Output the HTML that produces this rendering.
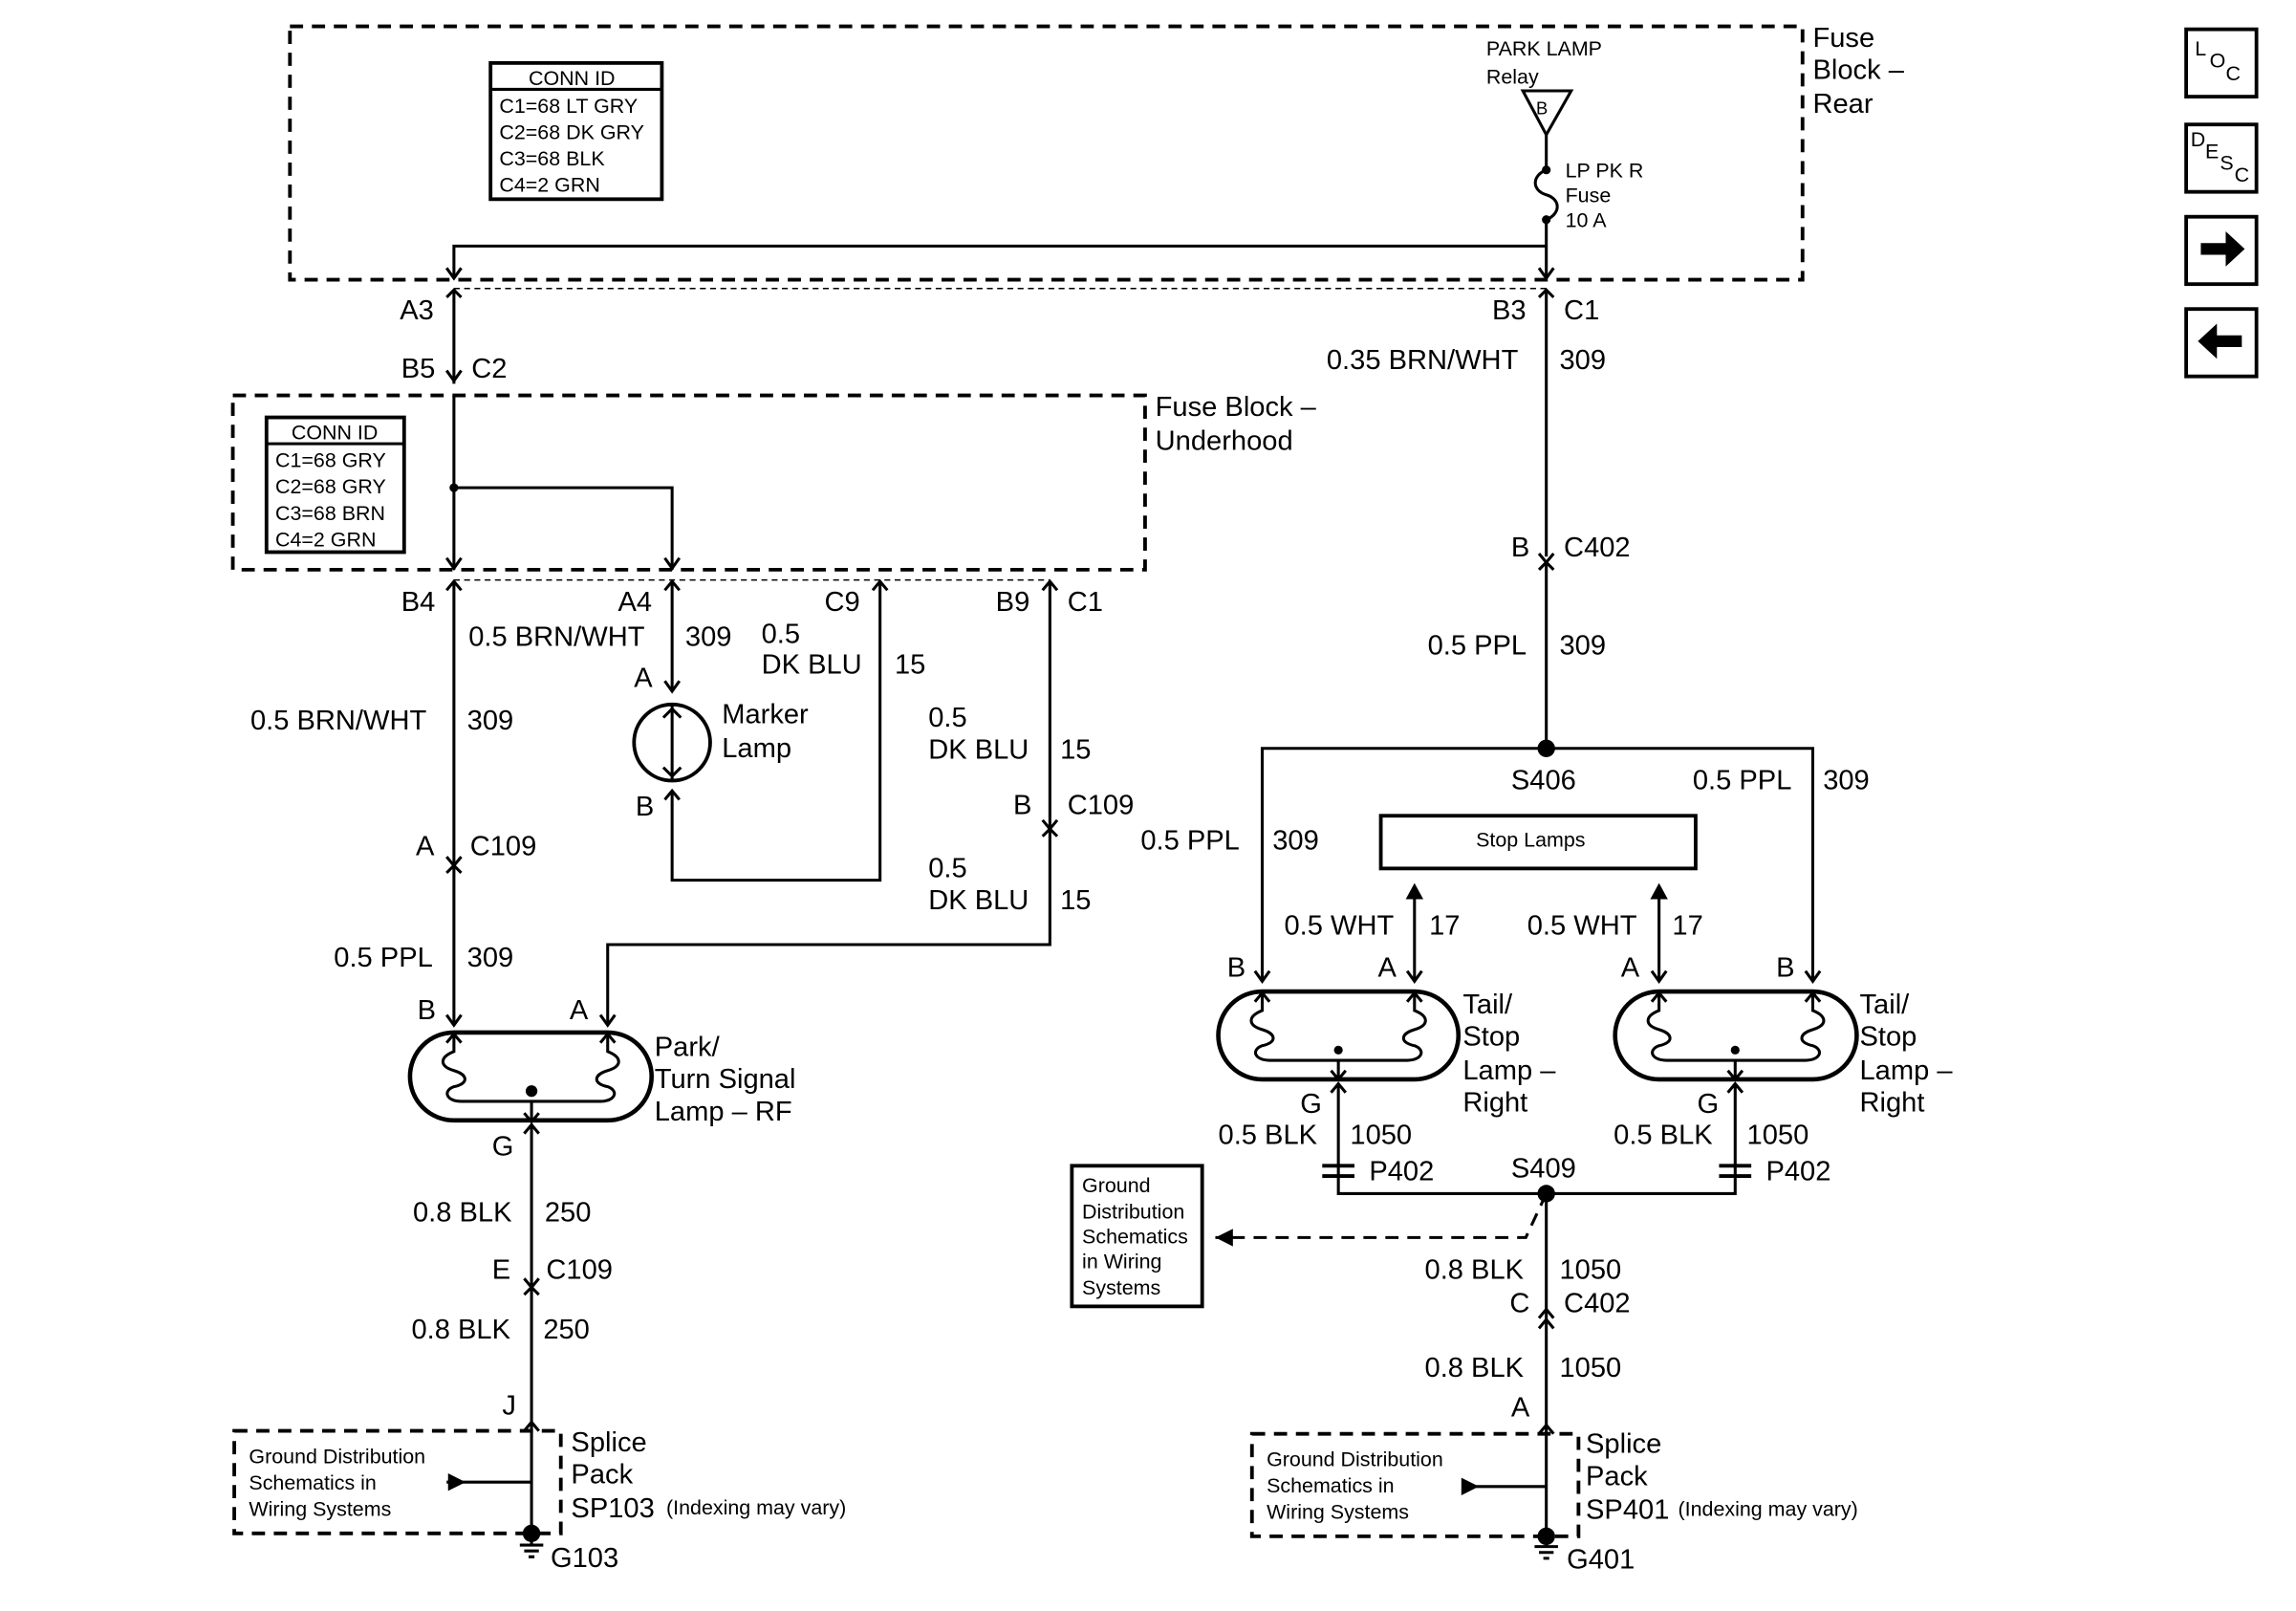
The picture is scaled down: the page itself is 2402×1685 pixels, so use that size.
<!DOCTYPE html>
<html><head><meta charset="utf-8"><style>
html,body{margin:0;padding:0;background:#fff;}
svg{display:block;}
text{font-family:"Liberation Sans",Arial,sans-serif;fill:#000;}
.t{font-size:19px;}
.s{font-size:14px;}
.xs{font-size:13px;}
</style></head><body>
<svg width="2402" height="1685" viewBox="0 0 1568 1100" preserveAspectRatio="none" xmlns="http://www.w3.org/2000/svg">
<g fill="none" stroke="#000" stroke-width="2">
<rect x="198" y="18" width="1033" height="173" stroke-dasharray="9,6" stroke-width="2.5"/>
<rect x="335" y="43" width="117" height="93" stroke-width="2.5"/>
<line x1="335" y1="61" x2="452" y2="61"/>
<path d="M1040,62 L1073,62 L1056,92 Z"/>
<path d="M1056,92 L1056,116 M1056,150 L1056,190"/>
<path d="M1056,116 C1046,120 1046,130 1056,133 C1066,136 1066,146 1056,150" />
<path d="M310,190 L310,168 L1056,168"/>
<path d="M305,183 L310,190 L315,183 M1051,183 L1056,190 L1061,183"/>
<line x1="310" y1="197" x2="1056" y2="197" stroke-width="1" stroke-dasharray="4,3"/>
<path d="M305,203 L310,198 L315,203 M310,198 L310,262"/>
<path d="M305,253 L310,260 L315,253"/>
<path d="M1051,203 L1056,198 L1061,203 M1056,198 L1056,380"/>
<rect x="159" y="270" width="623" height="119" stroke-dasharray="9,6" stroke-width="2.5"/>
<rect x="182" y="285" width="94" height="92" stroke-width="2.5"/>
<line x1="182" y1="303" x2="276" y2="303"/>
<path d="M310,270 L310,389 M310,333 L459,333 L459,389"/>
<path d="M305,381 L310,388 L315,381 M454,381 L459,388 L464,381"/>
<line x1="310" y1="396" x2="717" y2="396" stroke-width="1" stroke-dasharray="4,3"/>
<path d="M305,403 L310,397 L315,403 M310,397 L310,700"/>
<path d="M305,585 L310,591 L315,585 M305,596 L310,591 L315,596"/>
<path d="M305,693 L310,700 L315,693"/>
<path d="M454,403 L459,397 L464,403 M459,397 L459,472"/>
<path d="M454,465 L459,472 L464,465"/>
<circle cx="459" cy="507" r="26" stroke-width="2.5"/>
<path d="M459,482 L459,532 M453,490 L459,484 L465,490 M453,524 L459,530 L465,524"/>
<path d="M454,546 L459,540 L464,546 M459,540 L459,601 L601,601 L601,397 M596,403 L601,397 L606,403"/>
<path d="M712,403 L717,397 L722,403 M717,397 L717,645 L415,645 L415,700"/>
<path d="M712,560 L717,566 L722,560 M712,571 L717,566 L722,571"/>
<path d="M410,693 L415,700 L420,693"/>
<path d="M310,705 L415,705 A30,30 0 0 1 415,765 L310,765 A30,30 0 0 1 310,705 Z" stroke-width="3"/>
<path d="M310,705 L310,718 C300,722 300,728 310,731 C320,734 320,740 310,742 C302,745 305,752 315,752 L410,752 C420,752 423,745 415,742 C405,740 405,734 415,731 C425,728 425,722 415,718 L415,705"/>
<path d="M305,712 L310,706 L315,712 M410,712 L415,706 L420,712"/>
<path d="M363,752 L363,766 M358,760 L363,766 L368,760"/>
<path d="M358,774 L363,768 L368,774 M363,768 L363,1047"/>
<path d="M358,873 L363,879 L368,873 M358,884 L363,879 L368,884"/>
<path d="M358,977 L363,971 L368,977"/>
<rect x="160" y="977" width="223" height="70" stroke-dasharray="9,6" stroke-width="2.5"/>
<line x1="305" y1="1012" x2="363" y2="1012"/>
<path d="M363,1047 L363,1055 M355,1055 L371,1055 M358,1059 L368,1059 M361,1063 L365,1063"/>
<path d="M1051,378 L1056,384 L1061,378 M1051,389 L1056,384 L1061,389 M1056,384 L1056,511"/>
<path d="M862,670 L862,511 L1238,511 L1238,670"/>
<path d="M857,663 L862,670 L867,663 M1233,663 L1238,670 L1243,663"/>
<rect x="943" y="557" width="215" height="36" stroke-width="2.5"/>
<path d="M966,670 L966,610 M1133,670 L1133,610"/>
<path d="M961,663 L966,670 L971,663 M1128,663 L1133,670 L1138,663"/>
<path d="M862,677 L966,677 A30,30 0 0 1 966,737 L862,737 A30,30 0 0 1 862,677 Z" stroke-width="3"/>
<path d="M862,677 L862,690 C852,694 852,700 862,703 C872,706 872,712 862,714 C854,717 857,724 867,724 L961,724 C971,724 974,717 966,714 C956,712 956,706 966,703 C976,700 976,694 966,690 L966,677"/>
<path d="M857,684 L862,678 L867,684 M961,684 L966,678 L971,684"/>
<path d="M914,724 L914,737 M909,731 L914,737 L919,731"/>
<path d="M1133,677 L1238,677 A30,30 0 0 1 1238,737 L1133,737 A30,30 0 0 1 1133,677 Z" stroke-width="3"/>
<path d="M1133,677 L1133,690 C1123,694 1123,700 1133,703 C1143,706 1143,712 1133,714 C1125,717 1128,724 1138,724 L1233,724 C1243,724 1246,717 1238,714 C1228,712 1228,706 1238,703 C1248,700 1248,694 1238,690 L1238,677"/>
<path d="M1128,684 L1133,678 L1138,684 M1233,684 L1238,678 L1243,684"/>
<path d="M1185,724 L1185,737 M1180,731 L1185,737 L1190,731"/>
<path d="M909,746 L914,740 L919,746 M914,740 L914,815 L1185,815 L1185,740 M1180,746 L1185,740 L1190,746"/>
<path d="M903,796 L925,796 M903,803 L925,803 M1174,796 L1196,796 M1174,803 L1196,803" stroke-width="2.5"/>
<path d="M1056,815 L1056,1049"/>
<path d="M1056,815 L1042,845 L830,845" stroke-dasharray="9,6"/>
<rect x="732" y="796" width="89" height="96" stroke-width="2.5"/>
<path d="M1051,900 L1056,894 L1061,900 M1051,907 L1056,901 L1061,907"/>
<path d="M1051,979 L1056,973 L1061,979"/>
<rect x="855" y="979" width="223" height="70" stroke-dasharray="9,6" stroke-width="2.5"/>
<line x1="1000" y1="1015" x2="1056" y2="1015"/>
<path d="M1056,1049 L1056,1056 M1048,1056 L1064,1056 M1051,1060 L1061,1060 M1054,1064 L1058,1064"/>
<rect x="1493" y="20" width="48" height="46" stroke-width="2.5"/>
<rect x="1493" y="85" width="48" height="46" stroke-width="2.5"/>
<rect x="1493" y="148" width="48" height="46" stroke-width="2.5"/>
<rect x="1493" y="211" width="48" height="46" stroke-width="2.5"/>
</g>
<g fill="#000">
<circle cx="1056" cy="116" r="3"/><circle cx="1056" cy="150" r="3"/>
<circle cx="310" cy="333" r="3"/>
<circle cx="1056" cy="511" r="6"/>
<circle cx="1056" cy="815" r="6"/>
<circle cx="363" cy="745" r="4"/><circle cx="914" cy="717" r="3"/><circle cx="1185" cy="717" r="3"/>
<circle cx="363" cy="1047" r="6"/><circle cx="1056" cy="1049" r="6"/>
<path d="M966,603 L960,614 L972,614 Z"/><path d="M1133,603 L1127,614 L1139,614 Z"/>
<path d="M318,1012 L306,1006 L306,1018 Z"/>
<path d="M1010,1015 L998,1009 L998,1021 Z"/>
<path d="M830,845 L842,839 L842,851 Z"/>
<path d="M1503,166 L1520,166 L1520,158 L1533,170 L1520,182 L1520,174 L1503,174 Z"/>
<path d="M1531,229 L1514,229 L1514,221 L1501,233 L1514,245 L1514,237 L1531,237 Z"/>
</g>
<g class="s">
<text x="361" y="58">CONN ID</text>
<text x="341" y="77">C1=68 LT GRY</text>
<text x="341" y="95">C2=68 DK GRY</text>
<text x="341" y="113">C3=68 BLK</text>
<text x="341" y="131">C4=2 GRN</text>
<text x="199" y="300">CONN ID</text>
<text x="188" y="319">C1=68 GRY</text>
<text x="188" y="337">C2=68 GRY</text>
<text x="188" y="355">C3=68 BRN</text>
<text x="188" y="373">C4=2 GRN</text>
<text x="1015" y="38">PARK LAMP</text>
<text x="1015" y="57">Relay</text>
<text x="1069" y="121">LP PK R</text>
<text x="1069" y="138">Fuse</text>
<text x="1069" y="155">10 A</text>
<text x="1049" y="78" font-size="12">B</text>
<text x="170" y="999">Ground Distribution</text>
<text x="170" y="1017">Schematics in</text>
<text x="170" y="1035">Wiring Systems</text>
<text x="865" y="1001">Ground Distribution</text>
<text x="865" y="1019">Schematics in</text>
<text x="865" y="1037">Wiring Systems</text>
<text x="739" y="814">Ground</text>
<text x="739" y="832">Distribution</text>
<text x="739" y="849">Schematics</text>
<text x="739" y="866">in Wiring</text>
<text x="739" y="884">Systems</text>
<text x="1008" y="578">Stop Lamps</text>
<text x="455" y="1034">(Indexing may vary)</text>
<text x="1146" y="1035">(Indexing may vary)</text>
</g>
<g class="t">
<text x="1238" y="32">Fuse</text><text x="1238" y="54">Block –</text><text x="1238" y="77">Rear</text>
<text x="273" y="218">A3</text><text x="1019" y="218">B3</text><text x="1068" y="218">C1</text>
<text x="274" y="258">B5</text><text x="322" y="258">C2</text>
<text x="789" y="284">Fuse Block –</text><text x="789" y="307">Underhood</text>
<text x="906" y="252">0.35 BRN/WHT</text><text x="1065" y="252">309</text>
<text x="1032" y="380">B</text><text x="1068" y="380">C402</text>
<text x="975" y="447">0.5 PPL</text><text x="1065" y="447">309</text>
<text x="274" y="417">B4</text><text x="422" y="417">A4</text><text x="563" y="417">C9</text><text x="680" y="417">B9</text><text x="729" y="417">C1</text>
<text x="320" y="441">0.5 BRN/WHT</text><text x="468" y="441">309</text>
<text x="520" y="439">0.5</text><text x="520" y="460">DK BLU</text><text x="611" y="460">15</text>
<text x="433" y="469">A</text><text x="434" y="557">B</text>
<text x="493" y="494">Marker</text><text x="493" y="517">Lamp</text>
<text x="171" y="498">0.5 BRN/WHT</text><text x="319" y="498">309</text>
<text x="634" y="496">0.5</text><text x="634" y="518">DK BLU</text><text x="724" y="518">15</text>
<text x="692" y="556">B</text><text x="729" y="556">C109</text>
<text x="284" y="584">A</text><text x="321" y="584">C109</text>
<text x="634" y="599">0.5</text><text x="634" y="621">DK BLU</text><text x="724" y="621">15</text>
<text x="228" y="660">0.5 PPL</text><text x="319" y="660">309</text>
<text x="285" y="696">B</text><text x="389" y="696">A</text>
<text x="447" y="721">Park/</text><text x="447" y="743">Turn Signal</text><text x="447" y="765">Lamp – RF</text>
<text x="336" y="789">G</text>
<text x="282" y="834">0.8 BLK</text><text x="372" y="834">250</text>
<text x="336" y="873">E</text><text x="373" y="873">C109</text>
<text x="281" y="914">0.8 BLK</text><text x="371" y="914">250</text>
<text x="343" y="966">J</text>
<text x="390" y="991">Splice</text><text x="390" y="1013">Pack</text><text x="390" y="1036">SP103</text>
<text x="376" y="1070">G103</text>
<text x="1032" y="539">S406</text>
<text x="1156" y="539">0.5 PPL</text><text x="1245" y="539">309</text>
<text x="779" y="580">0.5 PPL</text><text x="869" y="580">309</text>
<text x="877" y="638">0.5 WHT</text><text x="976" y="638">17</text>
<text x="1043" y="638">0.5 WHT</text><text x="1142" y="638">17</text>
<text x="838" y="667">B</text><text x="941" y="667">A</text><text x="1107" y="667">A</text><text x="1213" y="667">B</text>
<text x="999" y="692">Tail/</text><text x="999" y="714">Stop</text><text x="999" y="737">Lamp –</text><text x="999" y="759">Right</text>
<text x="1270" y="692">Tail/</text><text x="1270" y="714">Stop</text><text x="1270" y="737">Lamp –</text><text x="1270" y="759">Right</text>
<text x="888" y="760">G</text><text x="1159" y="760">G</text>
<text x="832" y="781">0.5 BLK</text><text x="922" y="781">1050</text>
<text x="1102" y="781">0.5 BLK</text><text x="1193" y="781">1050</text>
<text x="935" y="806">P402</text><text x="1206" y="806">P402</text>
<text x="1032" y="804">S409</text>
<text x="973" y="873">0.8 BLK</text><text x="1065" y="873">1050</text>
<text x="1031" y="896">C</text><text x="1068" y="896">C402</text>
<text x="973" y="940">0.8 BLK</text><text x="1065" y="940">1050</text>
<text x="1032" y="967">A</text>
<text x="1083" y="992">Splice</text><text x="1083" y="1014">Pack</text><text x="1083" y="1037">SP401</text>
<text x="1070" y="1071">G401</text>
</g>
<g font-size="14">
<text x="1499" y="38">L</text><text x="1509" y="46">O</text><text x="1520" y="55">C</text>
<text x="1496" y="100">D</text><text x="1506" y="108">E</text><text x="1516" y="116">S</text><text x="1526" y="124">C</text>
</g>
</svg>
</body></html>
